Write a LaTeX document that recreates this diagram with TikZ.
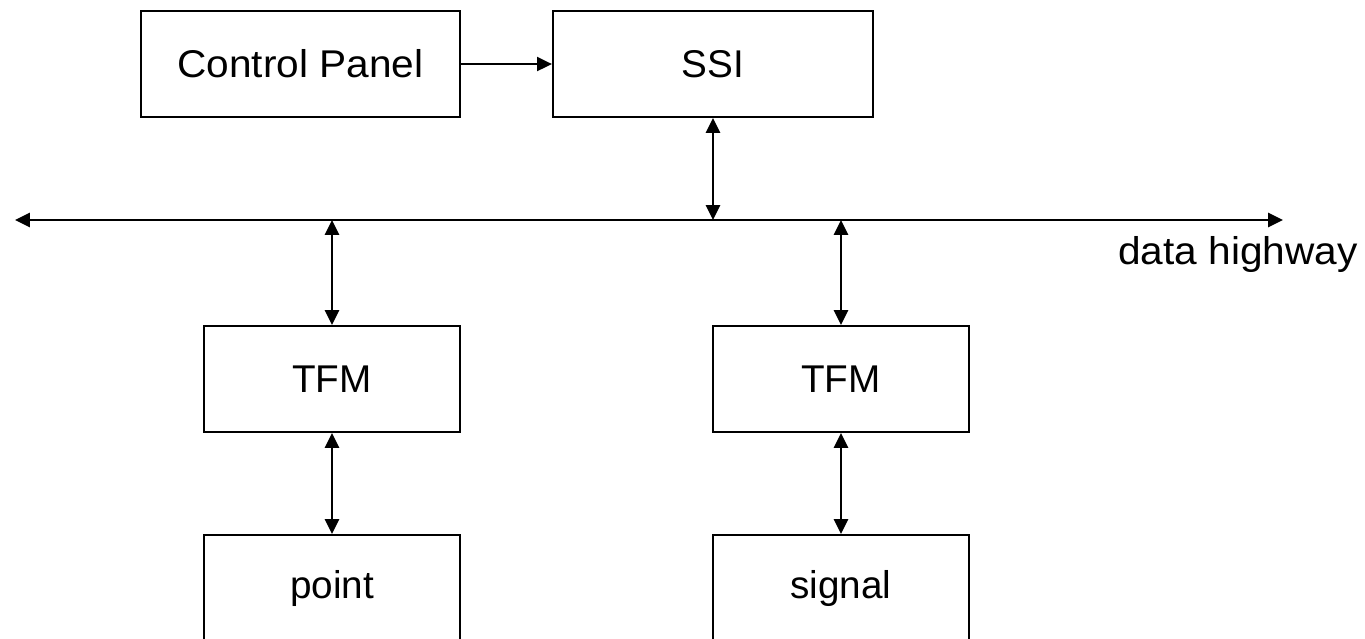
\documentclass[tikz,border=0pt]{standalone}
\usepackage{fontspec}
\setmainfont{Liberation Sans}
\usetikzlibrary{arrows.meta}
\begin{document}
\begin{tikzpicture}[x=0.01cm,y=-0.01cm,
  blk/.style={draw,line width=0.6pt,minimum width=#1,minimum height=1.06cm,inner sep=0pt,font=\fontsize{11}{13}\selectfont},
  conn/.style={line width=0.6pt,-{Triangle[length=4.2pt,width=4pt]}},
  bidir/.style={line width=0.6pt,{Triangle[length=4.2pt,width=4pt]}-{Triangle[length=4.2pt,width=4pt]}}]
\useasboundingbox[fill=white] (0,0) rectangle (1365,639);
\node[blk=3.19cm] (cp) at (300.5,64) {\addfontfeature{FakeStretch=1.05}Control Panel};
\node[blk=3.20cm] (ssi) at (713,64) {SSI};
\node[blk=2.56cm] (tfm1) at (332,379) {TFM};
\node[blk=2.56cm] (tfm2) at (841,379) {TFM};
\node[blk=2.56cm] (pt) at (332,588) {point};
\node[blk=2.56cm] (sig) at (841,588) {signal};
\coordinate (bl) at (15,220);
\coordinate (br) at (1283,220);
\coordinate (b0) at (713,220);
\coordinate (b1) at (332,220);
\coordinate (b2) at (841,220);
\draw[bidir] (bl) -- (br);
\node[font=\fontsize{11}{13}\selectfont,inner sep=0pt] (dh) at (1238,254) {\addfontfeature{FakeStretch=1.05}data highway};
\draw[conn] (cp.east) -- (ssi.west);
\draw[bidir] (ssi.south) -- (b0);
\draw[bidir] (b1) -- (tfm1.north);
\draw[bidir] (b2) -- (tfm2.north);
\draw[bidir] (tfm1.south) -- (pt.north);
\draw[bidir] (tfm2.south) -- (sig.north);
\end{tikzpicture}
\end{document}
